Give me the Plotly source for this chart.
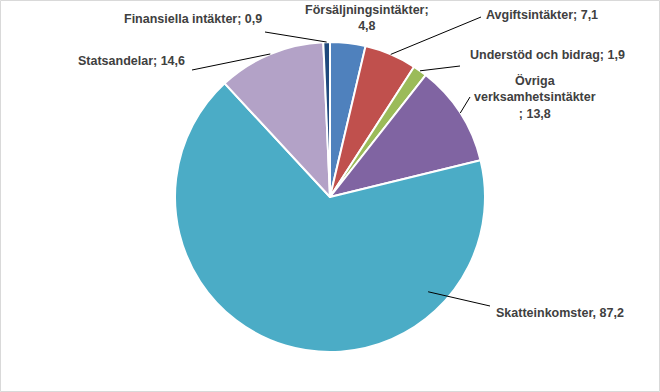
import math
import plotly.graph_objects as go

# ---- data ----
categories = ["Försäljningsintäkter", "Avgiftsintäkter", "Understöd och bidrag",
              "Övriga verksamhetsintäkter", "Skatteinkomster", "Statsandelar",
              "Finansiella intäkter"]
values = [4.8, 7.1, 1.9, 13.8, 87.2, 14.6, 0.9]
label_texts = ["Försäljningsintäkter;<br>4,8", "Avgiftsintäkter; 7,1",
               "Understöd och bidrag; 1,9",
               "Övriga<br>verksamhetsintäkter<br>; 13,8",
               "Skatteinkomster, 87,2", "Statsandelar; 14,6",
               "Finansiella intäkter; 0,9"]
colors = ["#4F81BD", "#C0504D", "#9BBB59", "#8064A2", "#4BACC6", "#B3A2C7", "#1F497D"]

# ---- layout / style ----
W, H = 660, 392
CX, CY, R = 330, 197, 155
# label centres (px)
label_pos = [(367, 18), (542, 15), (547, 55), (535, 97), (560, 313), (131, 61), (193, 19)]
# leader line: text-side end (px), or None
line_text_end = [None, (481, 17), (460, 66), (470, 97), (490, 306), (192, 70), (265, 32)]
# leader anchor override angle (deg clockwise from top) and radius fraction
anchor_angle = [None, None, None, None, 134, None, None]
anchor_rfrac = [1.0, 1.0, 1.0, 1.0, 0.88, 1.0, 1.0]


def px(x, y):
    return x / W, 1 - y / H


fig = go.Figure(go.Pie(
    labels=categories, values=values, sort=False, direction="clockwise",
    rotation=0, marker=dict(colors=colors, line=dict(color="white", width=2)),
    textinfo="none", hoverinfo="label+value", showlegend=False,
    domain=dict(x=[(CX - R) / W, (CX + R) / W], y=[1 - (CY + R) / H, 1 - (CY - R) / H]),
))

total = sum(values)
cum = 0.0
annotations = []
shapes = []
for i, v in enumerate(values):
    start = cum / total * 360
    cum += v
    end = cum / total * 360
    mid = (start + end) / 2
    lx, ly = label_pos[i]
    text = "<br>".join("<b>" + s + "</b>" for s in label_texts[i].split("<br>"))
    annotations.append(dict(
        x=lx / W, y=1 - ly / H, xref="paper", yref="paper", text=text,
        showarrow=False, xanchor="center", yanchor="middle", align="center",
        font=dict(family="Liberation Sans, Arial, sans-serif", size=12.5, color="#404040"),
    ))
    if line_text_end[i] is not None:
        a = anchor_angle[i] if anchor_angle[i] is not None else mid
        rr = R * anchor_rfrac[i]
        ax = CX + rr * math.sin(math.radians(a))
        ay = CY - rr * math.cos(math.radians(a))
        x0, y0 = px(ax, ay)
        x1, y1 = px(*line_text_end[i])
        shapes.append(dict(type="line", xref="paper", yref="paper", x0=x0, y0=y0,
                           x1=x1, y1=y1, line=dict(color="#000000", width=1)))

# outer border
shapes.append(dict(type="rect", xref="paper", yref="paper", x0=0.5 / W, y0=0.5 / H,
                   x1=1 - 0.5 / W, y1=1 - 0.5 / H, line=dict(color="#D9D9D9", width=1)))

fig.update_layout(
    width=W, height=H, margin=dict(l=0, r=0, t=0, b=0),
    paper_bgcolor="white", plot_bgcolor="white",
    annotations=annotations, shapes=shapes,
)
fig.write_html("out.html", config={"displayModeBar": False},
               post_script="document.body.style.margin='0';document.body.style.overflow='hidden';")
